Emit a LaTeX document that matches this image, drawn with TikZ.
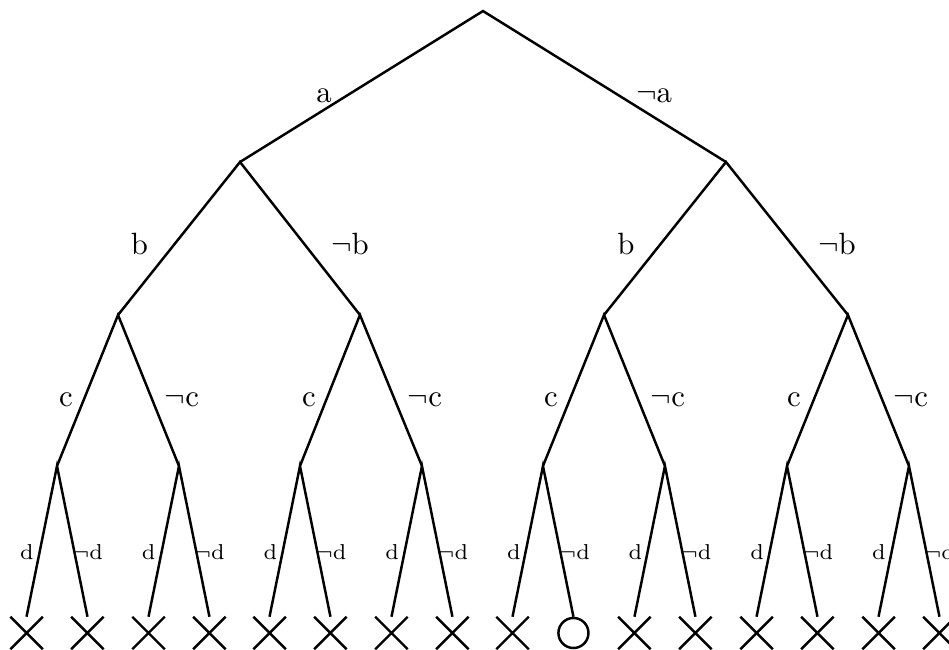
\documentclass[tikz,border=0pt]{standalone}
\usepackage{amsmath}
\usepackage{amssymb}
\usepackage{xcolor}
\usetikzlibrary{shapes.misc}
\definecolor{treeink}{HTML}{000000}

\begin{document}
\begin{tikzpicture}[
  x=1cm,
  y=1cm,
  every node/.style={font=\normalsize, treeink},
  branch/.style={treeink, line width=0.8pt},
  lbl/.style={anchor=base, inner sep=0pt},
  leaflbl/.style={anchor=base, inner sep=0pt, font=\scriptsize},
  closed/.style={cross out, draw=treeink, line width=0.8pt,
                 inner sep=0pt, minimum size=0.343cm},
  open/.style={circle, draw=treeink, line width=0.8pt,
               inner sep=0pt, minimum size=0.343cm}
]
  \useasboundingbox (0,0) rectangle (10.838,7.423);

  % ---- inner points of the tree ----
  \coordinate (t)    at (5.516,7.297);
  \coordinate (t0)   at (2.741,5.573);
  \coordinate (t1)   at (8.291,5.573);
  \coordinate (t00)  at (1.348,3.826);
  \coordinate (t01)  at (4.111,3.826);
  \coordinate (t10)  at (6.898,3.826);
  \coordinate (t11)  at (9.684,3.826);
  \coordinate (t000) at (0.651,2.101);
  \coordinate (t001) at (2.044,2.101);
  \coordinate (t010) at (3.426,2.101);
  \coordinate (t011) at (4.819,2.101);
  \coordinate (t100) at (6.201,2.101);
  \coordinate (t101) at (7.594,2.101);
  \coordinate (t110) at (8.988,2.101);
  \coordinate (t111) at (10.381,2.101);

  % ---- leaves (all closed but one) ----
  \node[closed] (t0000) at (0.303,0.194)  {};
  \node[closed] (t0001) at (0.999,0.194)  {};
  \node[closed] (t0010) at (1.696,0.194)  {};
  \node[closed] (t0011) at (2.392,0.194)  {};
  \node[closed] (t0100) at (3.078,0.194)  {};
  \node[closed] (t0101) at (3.774,0.194)  {};
  \node[closed] (t0110) at (4.471,0.194)  {};
  \node[closed] (t0111) at (5.167,0.194)  {};
  \node[closed] (t1000) at (5.853,0.194)  {};
  \node[open]   (t1001) at (6.549,0.194)  {};
  \node[closed] (t1010) at (7.246,0.194)  {};
  \node[closed] (t1011) at (7.942,0.194)  {};
  \node[closed] (t1100) at (8.640,0.194)  {};
  \node[closed] (t1101) at (9.336,0.194)  {};
  \node[closed] (t1110) at (10.033,0.194) {};
  \node[closed] (t1111) at (10.729,0.194) {};

  % ---- branches ----
  \draw[branch] (t0) -- (t) -- (t1);
  \draw[branch] (t00) -- (t0) -- (t01);
  \draw[branch] (t10) -- (t1) -- (t11);
  \draw[branch] (t000) -- (t00) -- (t001);
  \draw[branch] (t010) -- (t01) -- (t011);
  \draw[branch] (t100) -- (t10) -- (t101);
  \draw[branch] (t110) -- (t11) -- (t111);
  \draw[branch] (t0000.north) -- (t000) -- (t0001.north);
  \draw[branch] (t0010.north) -- (t001) -- (t0011.north);
  \draw[branch] (t0100.north) -- (t010) -- (t0101.north);
  \draw[branch] (t0110.north) -- (t011) -- (t0111.north);
  \draw[branch] (t1000.north) -- (t100) -- (t1001.north);
  \draw[branch] (t1010.north) -- (t101) -- (t1011.north);
  \draw[branch] (t1100.north) -- (t110) -- (t1101.north);
  \draw[branch] (t1110.north) -- (t111) -- (t1111.north);

  % ---- branch labels, level a ----
  \node[lbl] (la)  at (3.700,6.258) {a};
  \node[lbl] (lna) at (7.469,6.258) {$\neg$a};

  % ---- level b ----
  \node[lbl] (lb0)  at (1.593,4.511) {b};
  \node[lbl] (lnb0) at (3.997,4.511) {$\neg$b};
  \node[lbl] (lb1)  at (7.149,4.511) {b};
  \node[lbl] (lnb1) at (9.559,4.511) {$\neg$b};

  % ---- level c ----
  \node[lbl] (lc00)  at (0.754,2.775)  {c};
  \node[lbl] (lnc00) at (2.078,2.775)  {$\neg$c};
  \node[lbl] (lc01)  at (3.529,2.775)  {c};
  \node[lbl] (lnc01) at (4.854,2.775)  {$\neg$c};
  \node[lbl] (lc10)  at (6.292,2.775)  {c};
  \node[lbl] (lnc10) at (7.629,2.775)  {$\neg$c};
  \node[lbl] (lc11)  at (9.067,2.775)  {c};
  \node[lbl] (lnc11) at (10.404,2.775) {$\neg$c};

  % ---- level d ----
  \node[leaflbl] (ld000)  at (0.308,1.028)  {d};
  \node[leaflbl] (lnd000) at (1.005,1.028)  {$\neg$d};
  \node[leaflbl] (ld001)  at (1.698,1.028)  {d};
  \node[leaflbl] (lnd001) at (2.395,1.028)  {$\neg$d};
  \node[leaflbl] (ld010)  at (3.088,1.028)  {d};
  \node[leaflbl] (lnd010) at (3.785,1.028)  {$\neg$d};
  \node[leaflbl] (ld011)  at (4.478,1.028)  {d};
  \node[leaflbl] (lnd011) at (5.174,1.028)  {$\neg$d};
  \node[leaflbl] (ld100)  at (5.868,1.028)  {d};
  \node[leaflbl] (lnd100) at (6.564,1.028)  {$\neg$d};
  \node[leaflbl] (ld101)  at (7.258,1.028)  {d};
  \node[leaflbl] (lnd101) at (7.954,1.028)  {$\neg$d};
  \node[leaflbl] (ld110)  at (8.647,1.028)  {d};
  \node[leaflbl] (lnd110) at (9.344,1.028)  {$\neg$d};
  \node[leaflbl] (ld111)  at (10.037,1.028) {d};
  \node[leaflbl] (lnd111) at (10.734,1.028) {$\neg$d};
\end{tikzpicture}
\end{document}
